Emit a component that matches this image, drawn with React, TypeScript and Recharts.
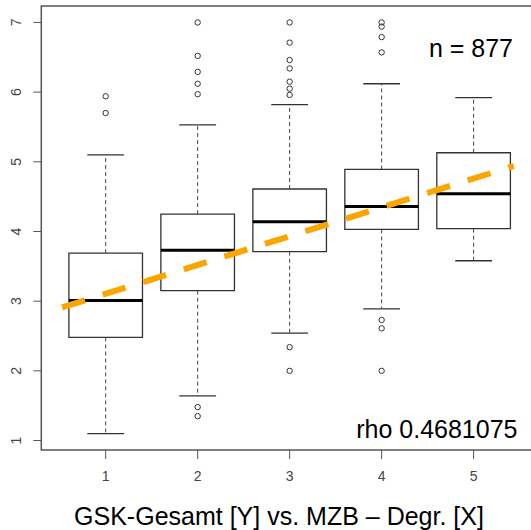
import React from 'react'
import { ReferenceArea, ReferenceLine, Scatter, ScatterChart, XAxis, YAxis } from 'recharts';

// five groups of the boxplot
const groups = [1, 2, 3, 4, 5];
const whiskerLow = [1.10, 1.64, 2.54, 2.89, 3.58];
const q1 = [2.48, 3.15, 3.71, 4.03, 4.04];
const median = [3.01, 3.73, 4.14, 4.36, 4.54];
const q3 = [3.69, 4.25, 4.61, 4.89, 5.13];
const whiskerHigh = [5.10, 5.53, 5.82, 6.12, 5.92];

const outlierGroup = [1, 1, 2, 2, 2, 2, 2, 2, 2, 3, 3, 3, 3, 3, 3, 3, 3, 3, 4, 4, 4, 4, 4, 4, 4];
const outlierValue = [5.94, 5.70, 7.0, 6.52, 6.29, 6.12, 5.97, 1.48, 1.35, 7.0, 6.71, 6.46, 6.34, 6.15, 6.05, 5.96, 2.34, 2.0, 7.0, 6.94, 6.79, 6.57, 2.73, 2.61, 2.0];

const trendX = [0.526, 5.437];
const trendY = [2.91, 4.94];

const xTicks = [1, 2, 3, 4, 5];
const yTicks = [1, 2, 3, 4, 5, 6, 7];

const outliers = outlierGroup.map((g, i) => ({ x: g, y: outlierValue[i] }));
const trend = trendX.map((x, i) => ({ x, y: trendY[i] }));

const boxStroke = '#333';
const font = "'Liberation Sans', Arial, sans-serif";

const YTick = (props: any) => {
  const { y, payload } = props;
  return (
    <text x={21} y={y} transform={`rotate(-90, 21, ${y})`} textAnchor="middle" fontSize={14} fill="#444" fontFamily={font}>
      {payload.value}
    </text>
  );
};

export default function App() {
  return (
    <div style={{ position: 'absolute', left: 0, top: 0, width: 531, height: 530, overflow: 'hidden', background: '#fff' }}>
      <ScatterChart width={538} height={530} margin={{ top: 6, right: 0, bottom: 0, left: 0 }}>
        <XAxis type="number" dataKey="x" domain={[0.3, 5.7]} allowDataOverflow ticks={xTicks}
          axisLine={false} tickLine={{ stroke: '#555' }} tickSize={9} tickMargin={12} height={80}
          tick={{ fontSize: 14, fill: '#444', fontFamily: font }} />
        <YAxis type="number" dataKey="y" domain={[0.864, 7.236]} allowDataOverflow ticks={yTicks}
          axisLine={false} tickLine={{ stroke: '#555' }} tickSize={8} width={41.3} tick={<YTick />} />

        <ReferenceArea x1={0.3} x2={5.7} y1={0.864} y2={7.236} fill="none" fillOpacity={0}
          stroke="#555" strokeWidth={1.5} ifOverflow="visible" />

        {groups.map((g, i) => (
          <React.Fragment key={g}>
            <ReferenceLine segment={[{ x: g, y: q3[i] }, { x: g, y: whiskerHigh[i] }]} stroke="#444" strokeDasharray="4 3" />
            <ReferenceLine segment={[{ x: g, y: q1[i] }, { x: g, y: whiskerLow[i] }]} stroke="#444" strokeDasharray="4 3" />
            <ReferenceLine segment={[{ x: g - 0.2, y: whiskerHigh[i] }, { x: g + 0.2, y: whiskerHigh[i] }]} stroke={boxStroke} strokeWidth={1.3} />
            <ReferenceLine segment={[{ x: g - 0.2, y: whiskerLow[i] }, { x: g + 0.2, y: whiskerLow[i] }]} stroke={boxStroke} strokeWidth={1.3} />
            <ReferenceArea x1={g - 0.4} x2={g + 0.4} y1={q1[i]} y2={q3[i]} fill="none" fillOpacity={0}
              stroke={boxStroke} strokeWidth={1.3} />
            <ReferenceLine segment={[{ x: g - 0.4, y: median[i] }, { x: g + 0.4, y: median[i] }]} stroke="#000" strokeWidth={3} />
          </React.Fragment>
        ))}

        <Scatter data={outliers} isAnimationActive={false}
          shape={(p: any) => <circle cx={p.cx} cy={p.cy} r={2.7} fill="none" stroke="#333" strokeWidth={1} />} />
        <Scatter data={trend} isAnimationActive={false}
          line={{ stroke: '#FAA500', strokeWidth: 6, strokeDasharray: '24 18.5' }}
          shape={() => <g />} />
      </ScatterChart>

      <svg width={531} height={530} style={{ position: 'absolute', left: 0, top: 0, pointerEvents: 'none' }}>
        <text x={513} y={56.5} textAnchor="end" fontSize={25} fill="#000" fontFamily={font}>n = 877</text>
        <text x={517.5} y={438.3} textAnchor="end" fontSize={25} fill="#000" fontFamily={font}>rho 0.4681075</text>
        <text x={279} y={525} textAnchor="middle" fontSize={25} fill="#000" fontFamily={font}>GSK-Gesamt [Y] vs. MZB – Degr. [X]</text>
      </svg>
    </div>
  )
}
